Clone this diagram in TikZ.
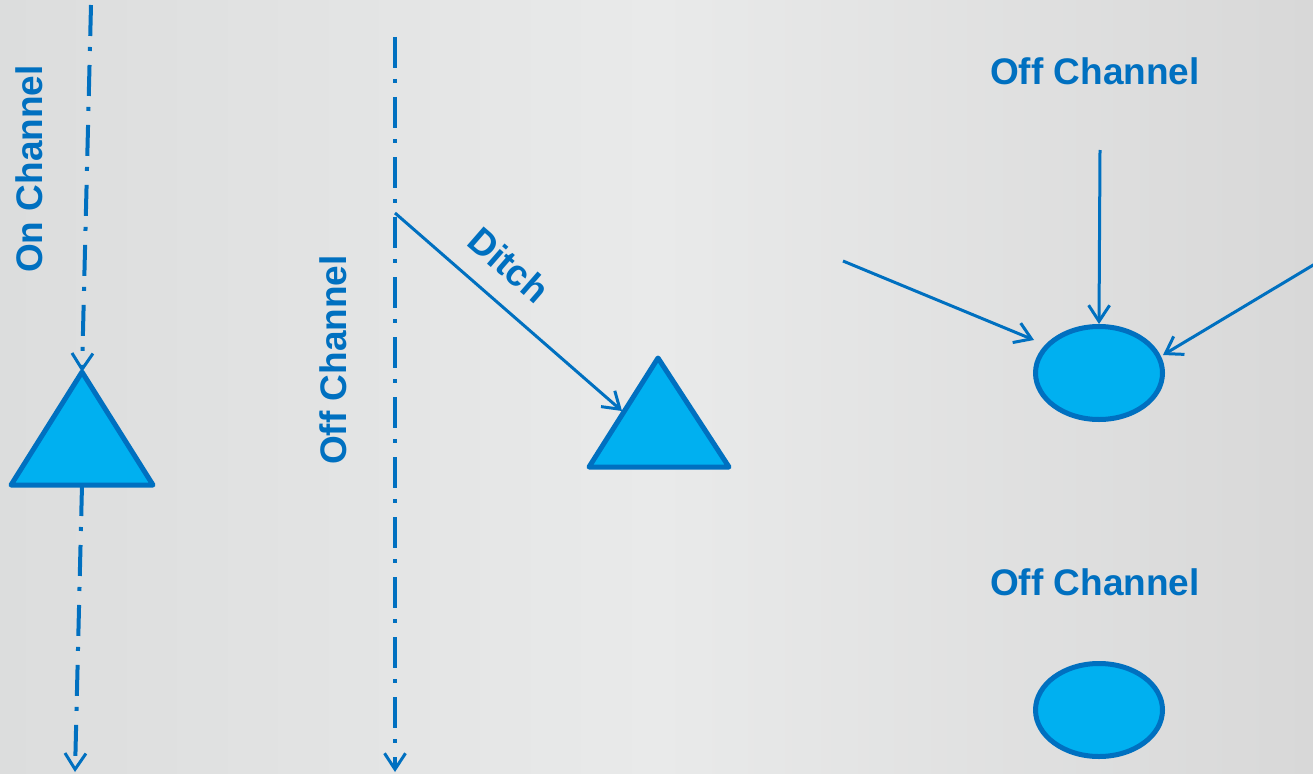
\documentclass[tikz,border=0pt]{standalone}
\usepackage{fontspec}
\setmainfont{Liberation Sans}
\usetikzlibrary{arrows.meta,shapes.geometric}
\definecolor{edgeblue}{HTML}{0070C0}
\definecolor{fillblue}{HTML}{00B0F0}
\definecolor{bgedgeL}{HTML}{DCDDDD}
\definecolor{bgmid}{HTML}{E9EAEA}
\definecolor{bgedgeR}{HTML}{D8D8D8}
\tikzset{
  x=1pt, y=-1pt,
  barb/.style={-{Straight Barb[length=16pt,width=21pt,line width=3pt]}},
  flow/.style={draw=edgeblue, line width=3pt, barb},
  channel/.style={draw=edgeblue, line width=4pt,
    dash pattern=on 31pt off 11pt on 4pt off 14pt, barb},
  shapeblue/.style={draw=edgeblue, fill=fillblue, line width=5pt, line join=round},
  pond/.style={shapeblue, ellipse, minimum width=127pt, minimum height=93pt, inner sep=0pt},
  lbl/.style={text=edgeblue, font=\fontsize{37}{44}\selectfont\bfseries, inner sep=0pt},
}
\begin{document}
\begin{tikzpicture}
% background
\shade[left color=bgedgeL, right color=bgedgeR, middle color=bgmid, shading angle=90]
  (0,0) rectangle (1313,773);
\useasboundingbox (0,0) rectangle (1313,773);
\clip (0,0) rectangle (1313,773);

% left column: on-channel feature
\coordinate (t1a) at (82,372);
\coordinate (t1l) at (11,485);
\coordinate (t1r) at (153,485);
\coordinate (t1b) at (82,485);
\filldraw[shapeblue] (t1a) -- (t1r) -- (t1l) -- cycle;
\coordinate (ontop) at (91,5);
\coordinate (onbot) at (75,772);
\draw[channel] (ontop) -- (t1a);
\draw[channel] (t1b) -- (onbot);
\node[lbl, rotate=90] (onlbl) at (29,169) {On Channel};

% middle column: off-channel with ditch
\coordinate (offtop) at (395,37);
\coordinate (offbot) at (395,772);
\coordinate (ditchstart) at (395,213);
\draw[channel] (offtop) -- (offbot);
\node[lbl, rotate=90] (offlbl) at (333,360) {Off Channel};
\coordinate (t2a) at (658,358);
\coordinate (t2l) at (589,467);
\coordinate (t2r) at (729,467);
\filldraw[shapeblue] (t2a) -- (t2r) -- (t2l) -- cycle;
\coordinate (t2edge) at (622,411);
\draw[flow] (ditchstart) -- (t2edge);
\node[lbl, rotate=-41] (ditchlbl) at (509,265) {Ditch};

% right column: off-channel ponds
\node[lbl] (offlblA) at (1095,71) {Off Channel};
\node[pond] (pondA) at (1099,373) {};
\coordinate (inN) at (1100,150);
\coordinate (inW) at (843,261);
\coordinate (inE) at (1330,255);
\draw[flow] (inN) -- (pondA.north);
\draw[flow] (inW) -- (1034,340);
\draw[flow] (inE) -- (1163,355);

\node[lbl] (offlblB) at (1095,582) {Off Channel};
\node[pond] (pondB) at (1099,710) {};
\end{tikzpicture}
\end{document}
